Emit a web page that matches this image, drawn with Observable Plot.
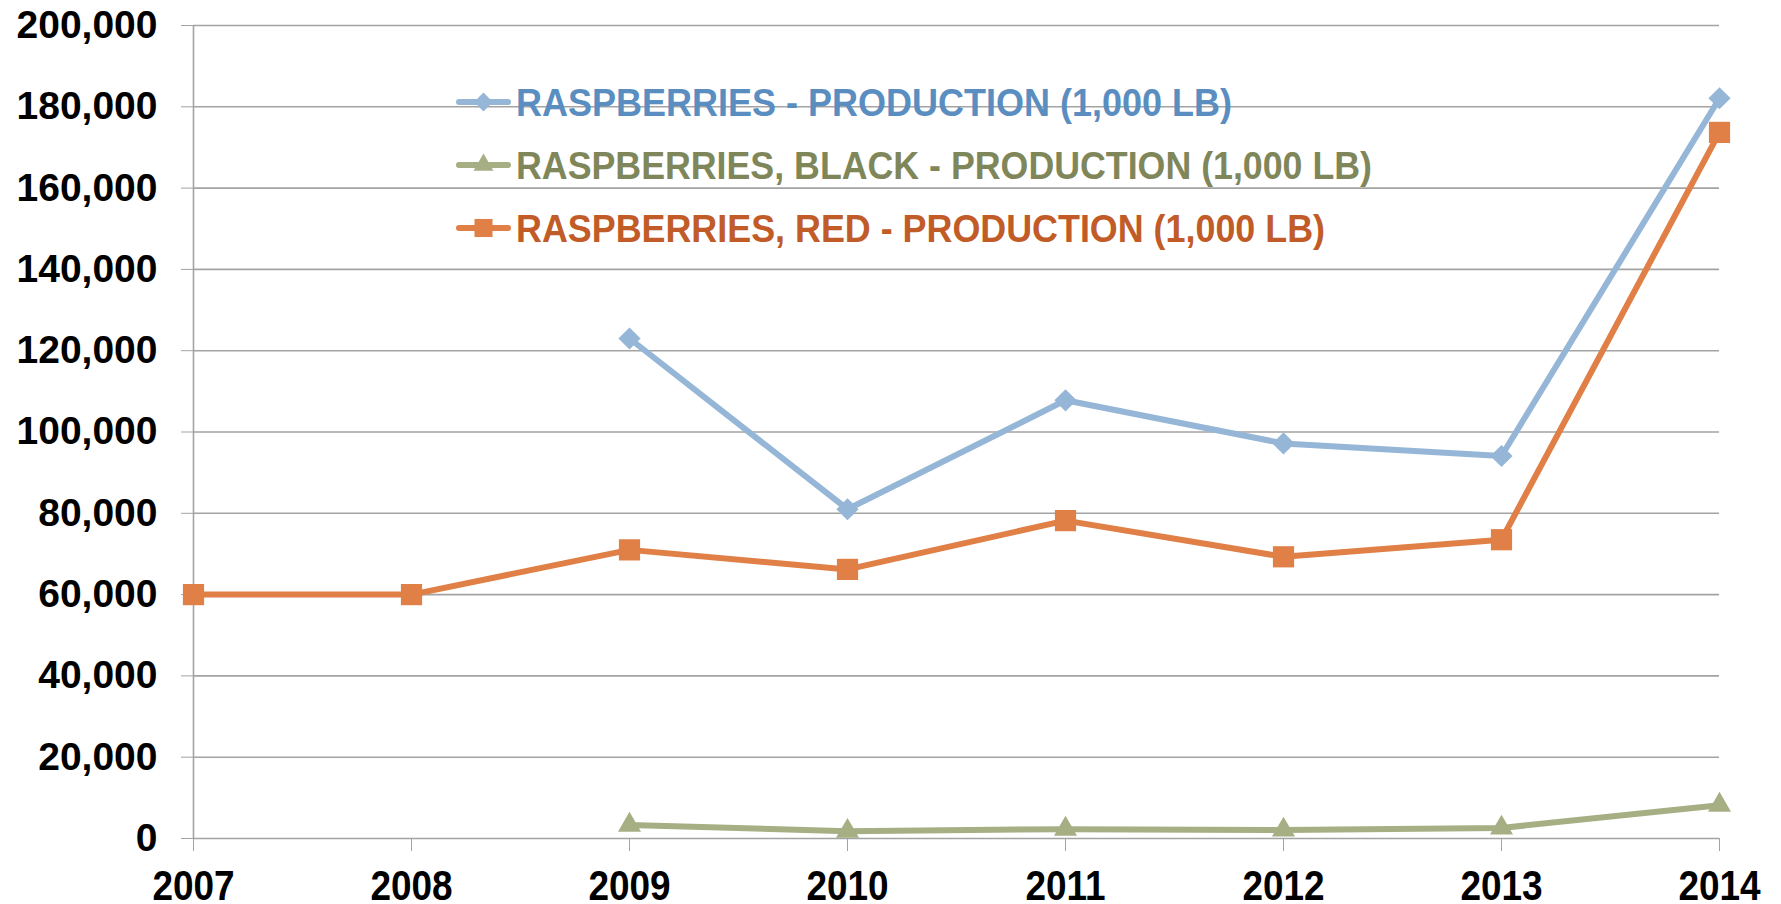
<!DOCTYPE html>
<html>
<head>
<meta charset="utf-8">
<script src="https://cdn.jsdelivr.net/npm/d3@7"></script>
<script src="https://cdn.jsdelivr.net/npm/@observablehq/plot@0.6"></script>
<style>
  html, body { margin: 0; padding: 0; background: #fff; overflow: hidden; }
  #chart { position: relative; width: 1781px; height: 904px; }
</style>
</head>
<body>
<div id="chart"></div>
<script>
const years = [2007, 2008, 2009, 2010, 2011, 2012, 2013, 2014];
const totalProduction = [null, null, 123000, 81000, 107800, 97200, 94100, 182100];
const blackProduction = [null, null, 3300, 1800, 2300, 2100, 2600, 8200];
const redProduction = [60000, 60000, 71000, 66200, 78200, 69300, 73500, 173700];
const seriesNames = [
  "RASPBERRIES - PRODUCTION (1,000 LB)",
  "RASPBERRIES, BLACK - PRODUCTION (1,000 LB)",
  "RASPBERRIES, RED - PRODUCTION (1,000 LB)"
];
const yTicks = [0, 20000, 40000, 60000, 80000, 100000, 120000, 140000, 160000, 180000, 200000];

const lineColors = ["#95B6D6", "#A6AE84", "#E07F46"];
const textColors = ["#5A8DC0", "#7F875A", "#C15B27"];
const symbols = ["diamond2", "triangle2", "square2"];
const symbolR = [10, 11, 13.5];
const legendR = [8.5, 9.5, 11.5];
const legendWidths = [716, 856, 809];
const valueSets = [totalProduction, blackProduction, redProduction];

const rows = [];
valueSets.forEach((vals, s) => {
  years.forEach((yr, i) => {
    if (vals[i] != null) rows.push({series: seriesNames[s], year: yr, value: vals[i], s});
  });
});

const gridColor = "#a3a3a3";
const marks = [
  Plot.gridY(yTicks, {stroke: gridColor, strokeOpacity: 1, strokeWidth: 1.6}),
  Plot.ruleX([years[0]], {stroke: gridColor, strokeWidth: 1.6}),
  Plot.axisY(yTicks, {
    tickSize: 12, tickPadding: 24, stroke: gridColor, fill: "#000",
    tickFormat: d3.format(","), fontSize: 39, fontWeight: "bold",
    fontFamily: "Liberation Sans, Arial, sans-serif", label: null
  }),
  Plot.axisX(years, {
    tickSize: 13, tickPadding: 19, stroke: gridColor, fill: "#000",
    tickFormat: d => String(d), fontSize: 42, fontWeight: "bold",
    fontFamily: "Liberation Sans, Arial, sans-serif", label: null
  })
];
seriesNames.forEach((name, s) => {
  const data = rows.filter(r => r.s === s);
  marks.push(Plot.line(data, {x: "year", y: "value", stroke: lineColors[s], strokeWidth: 6, strokeLinejoin: "round"}));
  marks.push(Plot.dot(data, {x: "year", y: "value", symbol: () => symbols[s], r: symbolR[s], fill: lineColors[s], stroke: "none"}));
});

const chart = Plot.plot({
  width: 1781,
  height: 904,
  marginLeft: 193,
  marginRight: 62,
  marginTop: 25,
  marginBottom: 66,
  x: {type: "linear", domain: [years[0], years[years.length - 1]]},
  y: {domain: [0, 200000]},
  style: {background: "#fff", overflow: "visible"},
  marks
});
document.getElementById("chart").appendChild(chart);

const svg = d3.select(chart);
// condense the year labels (original uses a condensed face)
svg.selectAll('g[aria-label="x-axis tick label"] text').each(function() {
  const w = this.getComputedTextLength();
  d3.select(this).attr("textLength", w * 0.88).attr("lengthAdjust", "spacingAndGlyphs");
});

// Legend inside the plot area
const legend = svg.append("g").attr("class", "legend");
const rowY = [102, 165, 228];
seriesNames.forEach((name, s) => {
  const g = legend.append("g").attr("transform", `translate(0,${rowY[s]})`);
  g.append("line").attr("x1", 459).attr("x2", 508).attr("y1", 0).attr("y2", 0)
    .attr("stroke", lineColors[s]).attr("stroke-width", 6).attr("stroke-linecap", "round");
  const sym = {diamond2: d3.symbolDiamond2, triangle2: d3.symbolTriangle2, square2: d3.symbolSquare2}[symbols[s]];
  g.append("path").attr("d", d3.symbol(sym, Math.PI * legendR[s] * legendR[s])())
    .attr("transform", "translate(483.5,0)").attr("fill", lineColors[s]);
  g.append("text").attr("x", 516).attr("y", 14)
    .attr("text-anchor", "start")
    .attr("fill", textColors[s])
    .attr("font-family", "Liberation Sans, Arial, sans-serif")
    .attr("font-weight", "bold").attr("font-size", 39)
    .attr("textLength", legendWidths[s]).attr("lengthAdjust", "spacingAndGlyphs")
    .text(name);
});
</script>
</body>
</html>
